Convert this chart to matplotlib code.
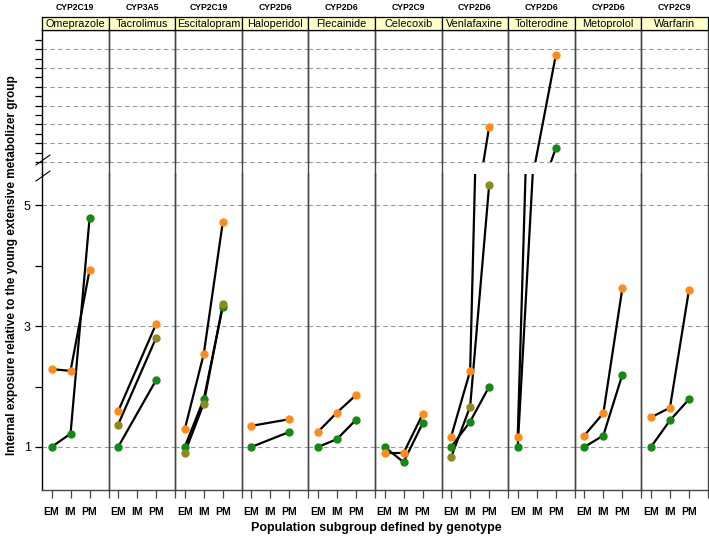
import numpy as np
import matplotlib
matplotlib.use("Agg")
import matplotlib.pyplot as plt
from matplotlib.lines import Line2D

plt.rcParams['font.family'] = ['Liberation Sans', 'DejaVu Sans']

nan = np.nan
drugs = ["Omeprazole", "Tacrolimus", "Escitalopram", "Haloperidol", "Flecainide",
         "Celecoxib", "Venlafaxine", "Tolterodine", "Metoprolol", "Warfarin"]
genes = ["CYP2C19", "CYP3A5", "CYP2C19", "CYP2D6", "CYP2D6",
         "CYP2C9", "CYP2D6", "CYP2D6", "CYP2D6", "CYP2C9"]
groups = ["EM", "IM", "PM"]

# values per drug: [EM, IM, PM]
orange = [[2.29, 2.26, 3.93], [1.59, nan, 3.04], [1.29, 2.54, 4.72], [1.35, nan, 1.46],
          [1.25, 1.57, 1.86], [0.90, 0.90, 1.54], [1.17, 2.26, 14.76], [1.17, nan, 22.35],
          [1.19, 1.56, 3.63], [1.49, 1.65, 3.60]]
olive = [[nan, nan, nan], [1.37, nan, 2.81], [0.90, 1.72, 3.36], [nan, nan, nan],
         [nan, nan, nan], [nan, nan, nan], [0.83, 1.67, 5.34], [nan, nan, nan],
         [nan, nan, nan], [nan, nan, nan]]
green = [[1.0, 1.22, 4.79], [1.0, nan, 2.11], [1.0, 1.79, 3.32], [1.0, nan, 1.25],
         [1.0, 1.13, 1.45], [1.0, 0.75, 1.39], [1.0, 1.42, 2.0], [1.0, nan, 12.46],
         [1.0, 1.19, 2.20], [1.0, 1.44, 1.79]]

series = [(green, '#138A13'), (olive, '#8C8A1E'), (orange, '#FF8C1A')]

W, H = 709, 536
fig = plt.figure(figsize=(W / 100, H / 100), dpi=100)

def fx(px):
    return px / W

def fy(p):
    return 1 - p / H

left, right = 42, 708
pw = (right - left) / 10
low_top, low_bot = 174, 490
up_top, up_bot = 30, 162
strip_top = 17
low_lim = (0.288, 5.52)
up_lim = (11, 25.04)
grid_kw = dict(color='#9a9a9a', lw=0.8, ls=(0, (4, 3)), zorder=0.5, clip_on=False)
frame_col = '#454545'

for i in range(10):
    x0 = fx(left + i * pw)
    axl = fig.add_axes([x0, fy(low_bot), fx(pw), (low_bot - low_top) / H])
    axu = fig.add_axes([x0, fy(up_bot), fx(pw), (up_bot - up_top) / H])
    for ax, lim in ((axl, low_lim), (axu, up_lim)):
        ax.set_xlim(0.5, 4.0)
        ax.set_ylim(*lim)
        ax.patch.set_alpha(0)
        for s in ax.spines.values():
            s.set_color(frame_col)
            s.set_linewidth(1.0)
        xs = np.arange(1, 4)
        for vals, col in series:
            v = np.array(vals[i], dtype=float)
            m = ~np.isnan(v)
            if m.sum() == 0:
                continue
            ax.plot(xs[m], v[m], color='black', lw=1.6, zorder=2)
        for vals, col in series:
            v = np.array(vals[i], dtype=float)
            m = ~np.isnan(v)
            if m.sum() == 0:
                continue
            ax.plot(xs[m], v[m], ls='none', marker='o', ms=5, color=col,
                    mec=col, zorder=3)
    for g in (1, 3, 5):
        axl.axhline(g, **grid_kw)
    for g in range(11, 24, 2):
        axu.axhline(g, **grid_kw)
    axl.spines['top'].set_visible(False)
    axu.spines['bottom'].set_visible(False)
    axu.set_xticks([])
    axl.set_xticks([1, 2, 3, 4])
    axl.set_xticklabels(groups + [''], fontsize=7.5, fontweight='bold')
    axl.tick_params(axis='x', length=6, width=0.9, color=frame_col, pad=6)
    if i == 0:
        axl.spines['left'].set_color('black')
        axu.spines['left'].set_color('black')
        axl.set_yticks([1, 2, 3, 4, 5])
        axl.set_yticklabels(['1', '', '3', '', '5'], fontsize=9)
        axl.tick_params(axis='y', length=5, width=0.9, pad=3)
        axu.set_yticks(range(11, 25))
        axu.set_yticklabels([])
        axu.tick_params(axis='y', length=5, width=0.9)
    else:
        axl.set_yticks([])
        axu.set_yticks([])
    # strip
    axs = fig.add_axes([x0, fy(up_top), fx(pw), (up_top - strip_top) / H])
    axs.set_facecolor('#FFFFC8')
    axs.set_xticks([])
    axs.set_yticks([])
    for s in axs.spines.values():
        s.set_color('black')
        s.set_linewidth(0.9)
    axs.text(0.5, 0.45, drugs[i], ha='center', va='center', fontsize=7.8,
             transform=axs.transAxes)
    fig.text(x0 + fx(pw) / 2, fy(7), genes[i], ha='center', va='center',
             fontsize=6.2, fontweight='bold')

# dividers across the axis break
for i in range(11):
    xx = fx(left + i * pw)
    col = 'black' if i == 0 else frame_col
    fig.add_artist(Line2D([xx, xx], [fy(low_top), fy(up_bot)], color=col, lw=1.0))

# break marks on the left axis
for yb in (160, 176):
    fig.add_artist(Line2D([fx(36), fx(50)], [fy(yb + 5), fy(yb - 5)], color='black', lw=0.8))

fig.text(fx(12), fy(265), "Internal exposure relative to the young extensive metabolizer group",
         rotation=90, ha='center', va='center', fontsize=8.5, fontweight='bold')
fig.text(fx(376), fy(528), "Population subgroup defined by genotype",
         ha='center', va='center', fontsize=9, fontweight='bold')

fig.savefig("out.png", dpi=100)
